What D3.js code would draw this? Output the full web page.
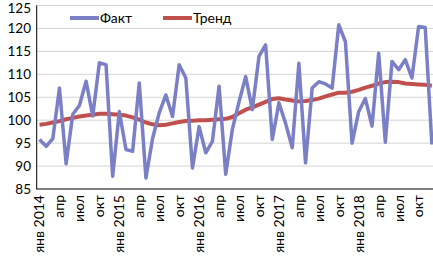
<!DOCTYPE html>
<html>
<head>
<meta charset="utf-8">
<script src="https://cdn.jsdelivr.net/npm/d3@7"></script>
<style>
  body { margin: 0; background: #fff; }
  svg text { font-family: Lato, "Open Sans", sans-serif; fill: #000; }
</style>
</head>
<body>
<div id="chart"></div>
<script>
const years = [2014, 2015, 2016, 2017, 2018];
const monthNames = ['янв', 'фев', 'мар', 'апр', 'май', 'июн', 'июл', 'авг', 'сен', 'окт', 'ноя', 'дек'];

const fact = [
    95.8, 94.3, 96.0, 107.0, 90.5, 101.3, 103.2, 108.5, 100.9, 112.5, 112.1, 87.8,
    101.9, 93.6, 93.2, 108.1, 87.4, 96.0, 101.6, 105.5, 100.8, 112.1, 109.2, 89.6,
    98.6, 92.9, 95.4, 107.4, 88.2, 98.0, 104.0, 109.5, 102.3, 113.9, 116.4, 95.8,
    103.8, 99.3, 94.0, 112.4, 90.7, 107.0, 108.4, 107.9, 107.0, 120.8, 117.1, 95.0,
    101.9, 104.7, 98.7, 114.6, 95.2, 112.8, 111.0, 113.2, 109.2, 120.4, 120.2, 94.7
];

const trend = [
    99.0, 99.2, 99.5, 99.8, 100.2, 100.5, 100.8, 101.0, 101.2, 101.4, 101.4, 101.3,
    101.2, 101.0, 100.6, 100.1, 99.5, 99.1, 98.9, 99.0, 99.3, 99.6, 99.8, 99.9,
    100.0, 100.0, 100.1, 100.2, 100.3, 100.7, 101.5, 102.3, 102.8, 103.4, 104.0, 104.6,
    104.8, 104.5, 104.3, 104.1, 104.2, 104.4, 104.7, 105.2, 105.6, 106.0, 106.0, 106.2,
    106.6, 107.1, 107.5, 108.0, 108.3, 108.4, 108.3, 108.0, 107.9, 107.8, 107.7, 107.5
];

const yTicks = [85, 90, 95, 100, 105, 110, 115, 120, 125];

// month categories, e.g. "2014-0"
const categories = [];
years.forEach(y => monthNames.forEach((m, i) => categories.push({ key: y + '-' + i, year: y, month: i })));

const width = 433, height = 259;
const margin = { left: 36.2, right: -2.2, top: 5.5, bottom: 70 };

const svg = d3.select('#chart')
    .append('svg')
    .attr('width', width)
    .attr('height', height);

const x = d3.scalePoint()
    .domain(categories.map(d => d.key))
    .range([margin.left, width - margin.right])
    .padding(0.5);

const y = d3.scaleLinear()
    .domain([85, 125])
    .range([height - margin.bottom, margin.top]);

// gridlines
svg.append('g')
    .selectAll('line')
    .data(yTicks.slice(1))
    .join('line')
    .attr('x1', margin.left)
    .attr('x2', width)
    .attr('y1', d => y(d))
    .attr('y2', d => y(d))
    .attr('stroke', '#d4d4d4')
    .attr('stroke-width', 1);

// y labels (top one nudged down so it stays inside the page)
svg.append('g')
    .selectAll('text')
    .data(yTicks)
    .join('text')
    .attr('x', 31)
    .attr('y', d => Math.max(y(d), 8.5))
    .attr('dy', '0.36em')
    .attr('text-anchor', 'end')
    .attr('font-size', 13.5)
    .text(d => d);

// axes lines
svg.append('line')
    .attr('x1', margin.left + 0.5).attr('x2', margin.left + 0.5)
    .attr('y1', margin.top).attr('y2', y(85))
    .attr('stroke', '#000').attr('stroke-width', 1);
svg.append('line')
    .attr('x1', margin.left).attr('x2', width)
    .attr('y1', y(85)).attr('y2', y(85))
    .attr('stroke', '#000').attr('stroke-width', 1);

// x labels, every 3rd month
const tickCats = categories.filter(d => d.month % 3 === 0);
svg.append('g')
    .selectAll('text')
    .data(tickCats)
    .join('text')
    .attr('transform', d => `translate(${ x(d.key) }, ${ y(85) + 6 }) rotate(-90)`)
    .attr('dy', '0.35em')
    .attr('text-anchor', 'end')
    .attr('font-size', 14)
    .text(d => d.month === 0 ? monthNames[0] + ' ' + d.year : monthNames[d.month]);

const line = d3.line()
    .x((d, i) => x(categories[i].key))
    .y(d => y(d));

svg.append('path')
    .datum(trend)
    .attr('fill', 'none')
    .attr('stroke', '#c0504d')
    .attr('stroke-width', 4)
    .attr('stroke-linejoin', 'round')
    .attr('d', line);

svg.append('path')
    .datum(fact)
    .attr('fill', 'none')
    .attr('stroke', '#7a7fc6')
    .attr('stroke-width', 3.5)
    .attr('stroke-linejoin', 'round')
    .attr('d', line);

// legend
const legendItems = [
    { name: 'Факт', color: '#7a7fc6', x: 70 },
    { name: 'Тренд', color: '#c0504d', x: 163 }
];
const legend = svg.append('g');
legend.selectAll('line')
    .data(legendItems)
    .join('line')
    .attr('x1', d => d.x).attr('x2', d => d.x + 29)
    .attr('y1', 18).attr('y2', 18)
    .attr('stroke', d => d.color)
    .attr('stroke-width', 4);
legend.selectAll('text')
    .data(legendItems)
    .join('text')
    .attr('x', d => d.x + 30)
    .attr('y', 18)
    .attr('dy', '0.36em')
    .attr('font-size', 14)
    .text(d => d.name);
</script>
</body>
</html>
